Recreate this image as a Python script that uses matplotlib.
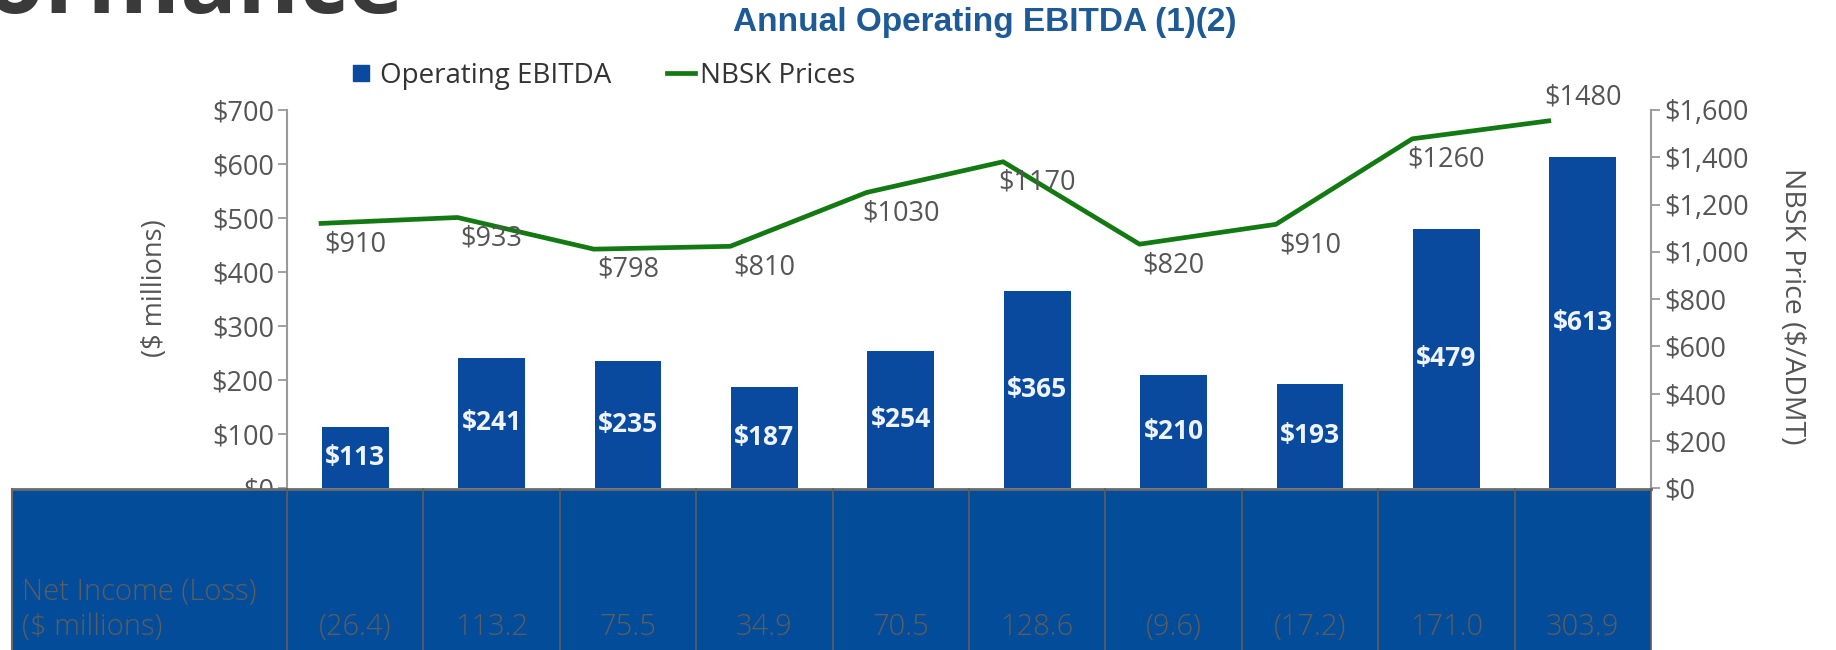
import numpy as np
import matplotlib
matplotlib.use("Agg")
import matplotlib.pyplot as plt
from matplotlib.patches import Rectangle
from matplotlib.lines import Line2D
from matplotlib.transforms import blended_transform_factory
from matplotlib.ticker import FuncFormatter

# data
years = ['Y1', 'Y2', 'Y3', 'Y4', 'Y5', 'Y6', 'Y7', 'Y8', 'Y9', 'Y10']
ebitda = [113, 241, 235, 187, 254, 365, 210, 193, 479, 613]
nbsk_line = [1120, 1145, 1011, 1023, 1251, 1381, 1032, 1116, 1478, 1554]
nbsk_labels = ['$910', '$933', '$798', '$810', '$1030', '$1170', '$820', '$910', '$1260', '$1480']
net_income = ['(26.4)', '113.2', '75.5', '34.9', '70.5', '128.6', '(9.6)', '(17.2)', '171.0', '303.9']

BAR = '#0a4a9e'
TABLE = '#024c9a'
GREEN = '#137a13'
GREY = '#555555'
AXIS = '#9a9a9a'

plt.rcParams['font.family'] = ['Open Sans', 'DejaVu Sans']
plt.rcParams['font.size'] = 19.5

W, H = 1836, 650
fig = plt.figure(figsize=(W / 100, H / 100), dpi=100)

ax = fig.add_axes([287 / W, 1 - 488 / H, 1364 / W, 378 / H])
ax2 = ax.twinx()

x = np.arange(len(years))
bars = ax.bar(x, ebitda, width=0.49, color=BAR, zorder=2)
ax.bar_label(bars, labels=['$%d' % v for v in ebitda], label_type='center',
             color='#eef3ff', fontweight='bold', fontsize=19)
ax.set_xlim(-0.5, len(years) - 0.5)
ax.set_ylim(0, 700)
ax.set_yticks(range(0, 701, 100))
ax.yaxis.set_major_formatter(FuncFormatter(lambda v, p: '$%d' % v))

ax2.plot(x - 0.25, nbsk_line, color=GREEN, lw=3.4, zorder=3)
for i, (v, lab) in enumerate(zip(nbsk_line, nbsk_labels)):
    dy = 17 if i == len(years) - 1 else -15
    ax2.annotate(lab, (i, v), xytext=(0, dy), textcoords='offset points',
                 ha='center', va='center', color=GREY, fontsize=19.5)
ax2.set_ylim(0, 1600)
ax2.set_yticks(range(0, 1601, 200))
ax2.yaxis.set_major_formatter(FuncFormatter(lambda v, p: '${:,.0f}'.format(v)))

for a in (ax, ax2):
    for s in ('top', 'bottom'):
        a.spines[s].set_visible(False)
    a.set_xticks([])
    a.tick_params(axis='y', colors=AXIS, labelcolor=GREY, length=6.5, width=1.3,
                  pad=3, labelsize=19.5)
ax.spines['right'].set_visible(False)
ax2.spines['left'].set_visible(False)
ax.spines['left'].set_color(AXIS)
ax.spines['left'].set_linewidth(1.5)
ax2.spines['right'].set_color(AXIS)
ax2.spines['right'].set_linewidth(1.5)

fig.text(155 / W, 1 - 288 / H, '($ millions)', rotation=90, ha='center', va='center',
         color=GREY, fontsize=19.5)
fig.text(1792 / W, 1 - 306 / H, 'NBSK Price ($/ADMT)', rotation=270, ha='center',
         va='center', color=GREY, fontsize=20.5)

# title, legend and cut-off page heading
fig.text(985 / W, 1 - 23 / H, 'Annual Operating EBITDA (1)(2)', ha='center', va='center',
         color='#1e5a96', fontsize=24, fontweight='bold', family='Liberation Sans')
handles = [Line2D([], [], marker='s', ls='none', color=BAR, markersize=11),
           Line2D([], [], color=GREEN, lw=3.4)]
fig.legend(handles, ['Operating EBITDA', 'NBSK Prices'], ncol=2, frameon=False,
           loc='center left', bbox_to_anchor=(333 / W, 1 - 76 / H), fontsize=20,
           handlelength=1.0, handletextpad=0.2, columnspacing=2.0, borderpad=0,
           labelcolor='#333333')
fig.text(404 / W, 1 - 13 / H, 'Performance', ha='right', va='baseline', color='#3a3a3a',
         fontsize=68, fontweight='bold')

# net income table under the bars
bt = blended_transform_factory(ax.transData, fig.transFigure)
top = 1 - 489 / H
fig.add_artist(Rectangle((12 / W, 0), 1639 / W, top, transform=fig.transFigure,
                         facecolor=TABLE, edgecolor='none', zorder=5))
fig.add_artist(Line2D([12 / W, 1651 / W], [top, top], transform=fig.transFigure,
                      color='#6a6a6a', lw=2, zorder=6))
fig.add_artist(Line2D([12 / W, 12 / W], [0, top], transform=fig.transFigure,
                      color='#6a6a6a', lw=1.5, zorder=6))
for b in np.arange(len(years) + 1) - 0.5:
    fig.add_artist(Line2D([b, b], [0, top], transform=bt, color='#5e5e5e', lw=1.2, zorder=6))
for i, v in enumerate(net_income):
    fig.text(i, 1 - 627 / H, v, transform=bt, ha='center', va='center', color='#5d5d5d',
             fontsize=21, fontweight='light', zorder=7)
fig.text(22 / W, 1 - 592 / H, 'Net Income (Loss)', ha='left', va='center', color='#5d5d5d',
         fontsize=21, fontweight='light', zorder=7)
fig.text(22 / W, 1 - 627 / H, '($ millions)', ha='left', va='center', color='#5d5d5d',
         fontsize=21, fontweight='light', zorder=7)

fig.savefig('out.png', dpi=100)
